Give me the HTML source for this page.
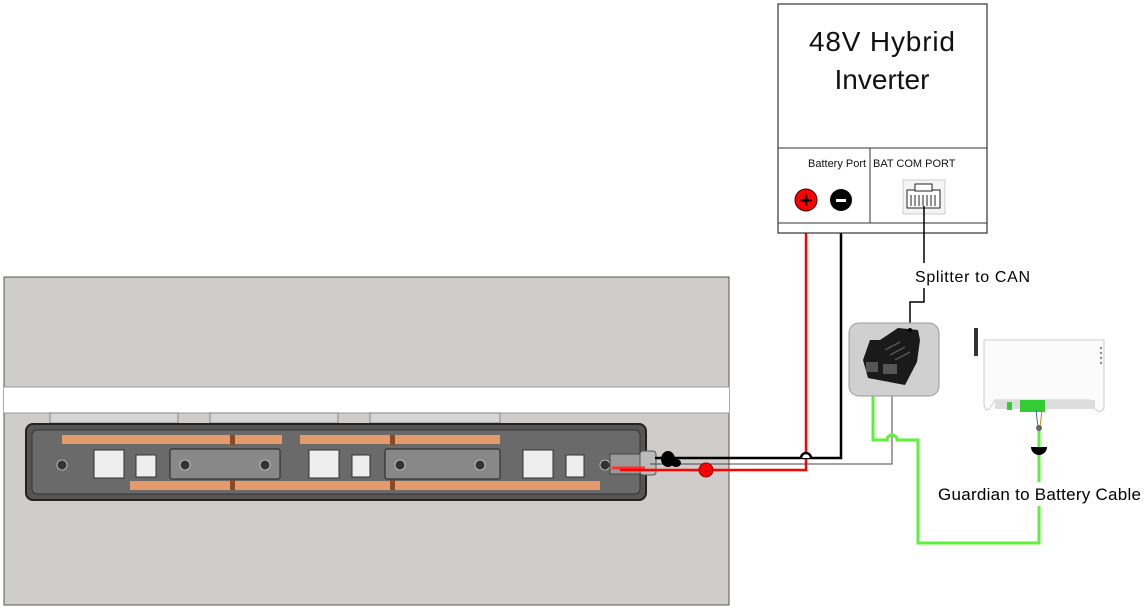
<!DOCTYPE html>
<html><head><meta charset="utf-8"><style>
html,body{margin:0;padding:0;background:#fff;}
svg{display:block;font-family:"Liberation Sans","DejaVu Sans",sans-serif;}
</style></head><body>
<svg width="1146" height="607" viewBox="0 0 1146 607" xmlns="http://www.w3.org/2000/svg">
<!-- gray panel -->
<rect x="4" y="277" width="725" height="328" fill="#cfcdcb" stroke="#555" stroke-width="1"/>
<rect x="4" y="387" width="725" height="26" fill="#fff"/>
<line x1="4" y1="387" x2="729" y2="387" stroke="#999"/>
<line x1="4" y1="413" x2="729" y2="413" stroke="#999"/>
<!-- top tabs -->
<rect x="50" y="413" width="128" height="10" fill="#d6d6d6" stroke="#777" stroke-width="0.8"/>
<rect x="210" y="413" width="128" height="10" fill="#d6d6d6" stroke="#777" stroke-width="0.8"/>
<rect x="370" y="413" width="130" height="10" fill="#d6d6d6" stroke="#777" stroke-width="0.8"/>
<!-- battery body -->
<rect x="26" y="424" width="620" height="76" rx="7" fill="#555" stroke="#222" stroke-width="2"/>
<rect x="32" y="430" width="608" height="64" rx="5" fill="#6a6a6a" stroke="#333"/>
<!-- busbars -->
<rect x="62" y="435" width="220" height="9" fill="#e59a6b"/>
<rect x="300" y="435" width="200" height="9" fill="#e59a6b"/>
<rect x="130" y="481" width="150" height="9" fill="#e59a6b"/>
<rect x="190" y="481" width="250" height="9" fill="#e59a6b"/>
<rect x="440" y="481" width="160" height="9" fill="#e59a6b"/>
<rect x="230" y="435" width="5" height="10" fill="#8a4a2a"/>
<rect x="390" y="435" width="5" height="10" fill="#8a4a2a"/>
<rect x="230" y="480" width="5" height="10" fill="#8a4a2a"/>
<rect x="390" y="480" width="5" height="10" fill="#8a4a2a"/>
<!-- modules -->
<g fill="#eee" stroke="#333">
<rect x="94" y="450" width="30" height="28"/>
<rect x="136" y="455" width="20" height="22"/>
<rect x="309" y="450" width="30" height="28"/>
<rect x="352" y="455" width="18" height="22"/>
<rect x="523" y="450" width="30" height="28"/>
<rect x="566" y="455" width="18" height="22"/>
</g>
<g fill="#888" stroke="#222">
<rect x="170" y="449" width="110" height="30" rx="2"/>
<rect x="385" y="449" width="115" height="30" rx="2"/>
</g>
<g fill="#333" stroke="#ccc" stroke-width="0.8">
<circle cx="62" cy="465" r="5"/><circle cx="185" cy="465" r="5"/><circle cx="265" cy="465" r="5"/>
<circle cx="400" cy="465" r="5"/><circle cx="480" cy="465" r="5"/><circle cx="605" cy="465" r="5"/>
</g>
<!-- connector -->
<rect x="610" y="454" width="32" height="20" fill="#999" stroke="#444"/>
<rect x="640" y="451" width="16" height="24" rx="3" fill="#bbb" stroke="#555"/>
<line x1="612" y1="468" x2="645" y2="468" stroke="#ff3030" stroke-width="3"/>
<!-- wires -->
<polyline points="806,200 806,470 620,470" fill="none" stroke="#f00" stroke-width="2.5"/>
<polyline points="841,200 841,458 655,458" fill="none" stroke="#000" stroke-width="2.5"/>
<polyline points="892,372 892,464 650,464" fill="none" stroke="#444" stroke-width="1"/>
<path d="M801,458 a5,5 0 0 1 10,0" fill="#fff" stroke="#000" stroke-width="2.5"/>
<ellipse cx="668" cy="459" rx="7" ry="8" fill="#000"/>
<ellipse cx="676" cy="463" rx="5" ry="4" fill="#000"/>
<circle cx="706" cy="470" r="7" fill="#f00" stroke="#900"/>
<text x="706" y="474" font-size="10" fill="#000" text-anchor="middle">-</text>
<path d="M873,372 L873,440 L887,440 A5,5 0 0 1 897,440 L918,440 L918,543 L1039,543 L1039,428" fill="none" stroke="#5ef03a" stroke-width="3"/>
<!-- inverter -->
<rect x="778" y="4" width="209" height="229" fill="#fff" stroke="#333" stroke-width="1.2"/>
<line x1="778" y1="148" x2="987" y2="148" stroke="#333"/>
<line x1="778" y1="223" x2="987" y2="223" stroke="#333"/>
<line x1="870" y1="148" x2="870" y2="223" stroke="#333"/>
<text x="882" y="51" font-size="28" text-anchor="middle" fill="#111" textLength="146">48V Hybrid</text>
<text x="882" y="89" font-size="28" text-anchor="middle" fill="#111">Inverter</text>
<text x="808" y="167" font-size="11" fill="#111">Battery Port</text>
<text x="873" y="167" font-size="11" fill="#111">BAT COM PORT</text>
<circle cx="806" cy="200" r="11" fill="#f00" stroke="#300"/>
<text x="806" y="208" font-size="22" font-weight="bold" text-anchor="middle">+</text>
<circle cx="841" cy="200" r="11" fill="#000"/>
<rect x="836" y="199" width="10" height="3" fill="#fff"/>
<rect x="903" y="180" width="42" height="34" fill="#f4f4f4" stroke="#ccc"/>
<rect x="907" y="190" width="33" height="18" fill="#fff" stroke="#222"/>
<rect x="915" y="184" width="17" height="7" fill="#fff" stroke="#222"/>
<g stroke="#222"><line x1="911" y1="195" x2="911" y2="206"/><line x1="915" y1="195" x2="915" y2="206"/><line x1="919" y1="195" x2="919" y2="206"/><line x1="923" y1="195" x2="923" y2="206"/><line x1="927" y1="195" x2="927" y2="206"/><line x1="931" y1="195" x2="931" y2="206"/><line x1="935" y1="195" x2="935" y2="206"/></g>
<!-- splitter line & label -->
<polyline points="924,206 924,263" fill="none" stroke="#000" stroke-width="1.5"/>
<polyline points="924,288 924,302 910,302 910,330" fill="none" stroke="#000" stroke-width="1.5"/>
<text x="915" y="282" font-size="16" fill="#000" textLength="115">Splitter to CAN</text>
<!-- splitter -->
<rect x="849" y="323" width="90" height="73" rx="10" fill="#d0d0d0" stroke="#999"/>
<path d="M870,340 L880,340 L898,328 L918,330 L920,340 L917,362 L905,385 L868,378 L863,360 Z" fill="#1a1a1a"/>
<rect x="866" y="362" width="12" height="10" fill="#555"/>
<rect x="883" y="364" width="14" height="10" fill="#555"/>
<g stroke="#555" stroke-width="1.5"><line x1="885" y1="350" x2="900" y2="342"/><line x1="890" y1="355" x2="905" y2="347"/><line x1="895" y1="360" x2="910" y2="352"/></g>
<circle cx="910" cy="330" r="2" fill="#000"/>
<!-- guardian -->
<path d="M984,340 L1104,340 L1104,408 Q1100,415 1094,408 L1090,400 L995,400 L990,408 Q986,413 984,405 Z" fill="#fbfbfb" stroke="#ccc"/>
<rect x="974" y="328" width="4" height="28" fill="#333"/>
<rect x="995" y="400" width="100" height="9" fill="#ddd"/>
<rect x="1020" y="400" width="25" height="12" fill="#3c3"/>
<rect x="1007" y="402" width="5" height="8" fill="#3c3"/>
<g fill="#888"><circle cx="1101" cy="348" r="1.2"/><circle cx="1101" cy="353" r="1.2"/><circle cx="1101" cy="358" r="1.2"/><circle cx="1101" cy="363" r="1.2"/></g>
<line x1="1036" y1="410" x2="1038" y2="427" stroke="#36c" stroke-width="1"/>
<line x1="1042" y1="410" x2="1040" y2="427" stroke="#c80" stroke-width="1"/>
<circle cx="1039" cy="428" r="3" fill="#666"/>
<path d="M1031,447 a8,8 0 0 0 16,0 Z" fill="#000"/>
<rect x="935" y="482" width="210" height="24" fill="#fff"/>
<text x="938" y="500" font-size="17" fill="#000" textLength="203">Guardian to Battery Cable</text>
</svg>
</body></html>
